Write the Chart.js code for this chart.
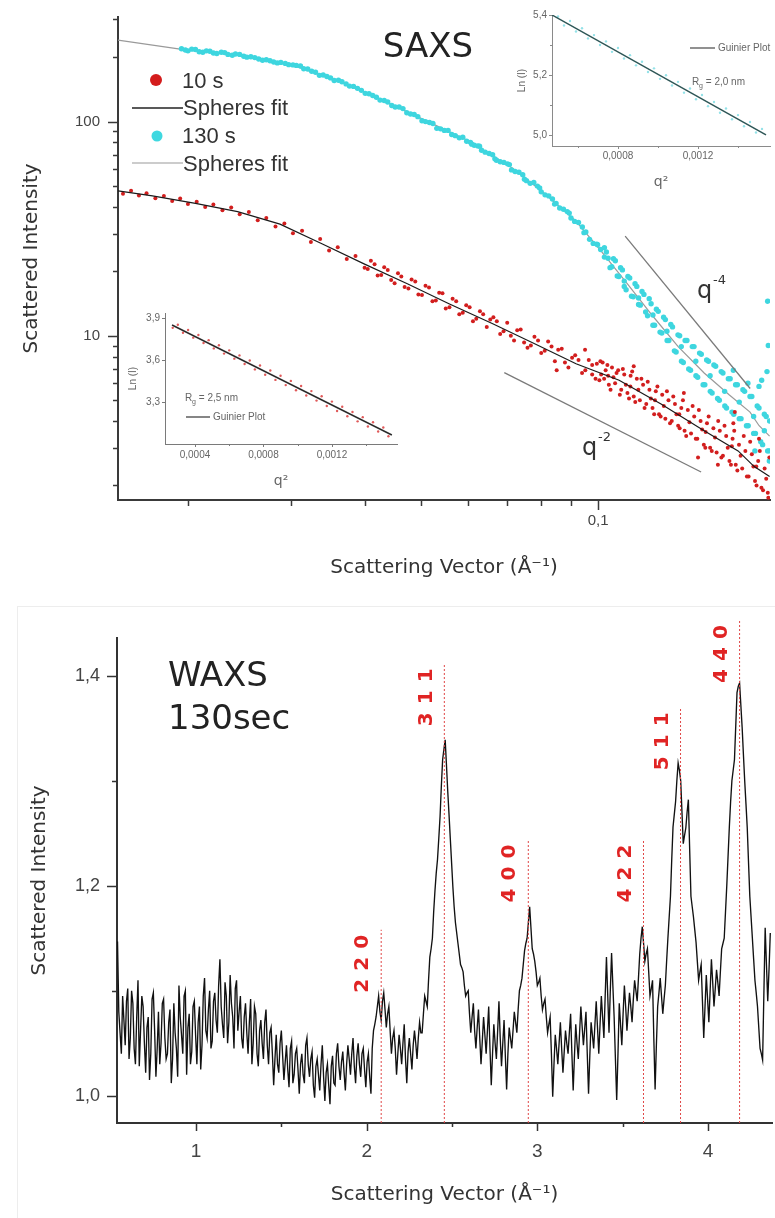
<!DOCTYPE html>
<html><head><meta charset="utf-8">
<script src="https://cdn.jsdelivr.net/npm/chart.js@4.4.1/dist/chart.umd.min.js"></script>
<style>
html,body{margin:0;padding:0;background:#fff;}
#wrap{position:relative;width:775px;height:1218px;overflow:hidden;background:#fff;}
canvas{position:absolute;}
#frame{position:absolute;left:17px;top:606px;width:820px;height:700px;border:1px solid #ededed;}
</style></head><body>
<div id="wrap">
<div id="frame"></div>
<canvas id="saxs" width="775" height="600" style="left:0;top:0"></canvas>
<canvas id="inTR" width="275" height="200" style="left:500px;top:0"></canvas>
<canvas id="inBL" width="290" height="210" style="left:110px;top:290px"></canvas>
<canvas id="waxs" width="775" height="618" style="left:0;top:600px"></canvas>
</div>
<script>
// ================= DATA =================
// SAXS: sphere-model fit curves (q in 1/Å, intensity)
const redFitQ = [0.0152,0.0174,0.0206,0.0243,0.0287,0.0339,0.0400,0.0473,0.0557,0.0660,0.0778,0.0917,0.1086,0.1280,0.1516,0.1732,0.1845,0.1960];
const redFitI = [47.5,45.0,41.5,38.0,33.2,26.8,21.6,17.5,14.1,11.4,9.2,7.4,6.2,4.8,3.6,2.9,2.45,2.2];
const cyanFitQ = [0.0152,0.0194,0.0243,0.0301,0.0374,0.0473,0.0605,0.0716,0.0803,0.0917,0.1016,0.1121,0.1241,0.1369,0.1516,0.1672,0.1815,0.1881,0.1960];
const cyanFitI = [240,218,205,184,149,111,80.7,60.4,47.2,34.3,24.5,17.5,12.3,8.9,6.7,5.3,4.4,3.8,3.4];

// SAXS measured points, 10 s
const redQ = [
 0.0155,0.0160,0.0165,0.0170,0.0176,0.0182,0.0188,0.0194,0.0200,0.0207,
 0.0214,0.0221,0.0229,0.0237,0.0245,0.0254,0.0263,0.0272,0.0282,0.0292,
 0.0302,0.0313,0.0324,0.0336,0.0348,0.0360,0.0373,0.0386,0.0400,
 0.0410,0.0421,0.0432,0.0444,0.0456,0.0468,0.0481,0.0494,0.0508,0.0522,
 0.0536,0.0550,0.0565,0.0580,0.0596,0.0612,0.0629,0.0646,0.0663,0.0681,
 0.0700,0.0719,0.0738,0.0758,0.0779,0.0800,0.0822,0.0844,0.0867,0.0890,
 0.0914,0.0939,0.0964,0.0990,0.0655,0.0710,0.0768,0.0833,0.0903,0.0977,
 0.1005,0.1018,0.1030,0.1043,0.1056,0.1069,0.1082,0.1095,0.1108,0.1122,
 0.1136,0.1150,0.1164,0.1178,0.1193,0.1208,0.1223,0.1238,0.1254,0.1270,
 0.1286,0.1302,0.1318,0.1335,0.1352,0.1369,0.1386,0.1404,0.1422,0.1440,
 0.1458,0.1476,0.1495,0.1514,0.1533,0.1552,0.1572,0.1592,0.1612,0.1632,
 0.1653,0.1674,0.1695,0.1716,0.1738,0.1760,0.1782,0.1805,0.1828,0.1851,
 0.1874,0.1898,0.1922,0.1946,0.1012,0.1062,0.1115,0.1171,0.1230,0.1294,
 0.1360,0.1431,0.1504,0.1582,0.1663,0.1749,0.1839,0.1934,0.0950,0.1150,
 0.1400,0.1700,0.1600,0.1950,0.1880,0.0850];
const redI = [
 46.0,47.5,45.2,46.3,43.9,44.9,42.6,43.8,41.2,42.3,
 39.9,41.0,38.6,39.7,36.9,37.8,34.6,35.5,32.4,33.4,
 30.1,30.9,27.4,28.3,25.0,25.9,22.8,23.6,20.8,
 22.4,19.1,20.9,18.2,19.6,16.9,18.3,15.6,17.1,14.5,
 15.9,13.4,14.9,12.6,13.9,11.7,13.0,11.0,12.2,10.2,
 11.5,9.5,10.7,8.8,9.9,8.3,9.4,7.6,8.7,7.1,
 8.1,6.7,7.7,6.3,11.9,10.0,9.0,8.9,7.9,7.3,
 6.2,7.5,6.9,5.9,7.1,6.0,6.9,5.6,6.6,5.4,
 6.5,5.2,6.3,5.0,5.9,4.8,5.6,4.6,5.5,4.3,
 5.3,4.1,5.0,4.0,4.8,3.8,4.6,3.6,4.5,3.5,
 4.2,3.3,4.0,3.1,3.9,3.0,3.7,2.85,3.6,2.75,
 3.4,2.6,3.3,2.5,3.1,2.4,2.9,2.2,2.8,2.1,
 2.6,1.95,2.4,1.85,6.6,6.4,5.9,5.6,5.1,4.7,
 4.3,3.95,3.65,3.35,3.0,2.75,2.45,2.15,8.6,7.2,
 5.4,3.9,2.5,1.75,3.3,6.9];
const redQ2 = [
 0.0405,0.0416,0.0427,0.0438,0.0450,0.0462,0.0475,0.0488,0.0501,0.0515,
 0.0529,0.0543,0.0558,0.0573,0.0588,0.0604,0.0620,0.0637,0.0672,0.0690,
 0.0728,0.0748,0.0790,0.0811,0.0855,0.0878,0.0926,0.0951,0.0977,0.0995,
 0.1009,0.1024,0.1037,0.1050,0.1075,0.1089,0.1102,0.1129,0.1143,0.1157,
 0.1185,0.1200,0.1215,0.1246,0.1262,0.1278,0.1310,0.1326,0.1343,0.1377,
 0.1395,0.1413,0.1449,0.1467,0.1485,0.1523,0.1543,0.1562,0.1602,0.1622,
 0.1642,0.1684,0.1706,0.1727,0.1771,0.1793,0.1816,0.1862,0.1886,0.1910,
 0.1958,0.1040,0.1135,0.1250,0.1375,0.1525,0.1690,0.1860,0.1710,0.1480];
const redI2 = [
 20.5,21.6,19.2,20.3,17.6,18.9,16.6,17.9,15.5,16.8,
 14.6,15.8,13.6,14.5,12.8,13.6,12.0,12.6,11.7,10.5,
 10.6,9.3,9.5,8.5,8.6,7.5,7.7,6.9,6.6,7.4,
 7.6,6.3,7.3,5.6,6.7,5.3,7.0,5.1,6.8,4.9,
 6.3,4.6,6.1,4.3,5.8,4.2,5.5,3.9,5.2,3.7,
 5.0,3.4,4.7,3.3,4.5,3.0,4.2,2.9,4.0,2.7,
 3.8,2.5,3.6,2.35,3.4,2.2,3.2,2.0,2.9,1.9,
 2.7,6.5,5.8,5.0,4.3,3.55,3.05,2.45,4.4,2.7];

// SAXS measured points, 130 s
const cyanQ = [
 0.0195,0.0200,0.0206,0.0212,0.0218,0.0224,0.0231,0.0238,0.0245,0.0252,
 0.0260,0.0268,0.0276,0.0284,0.0293,0.0302,0.0311,0.0320,0.0330,0.0340,
 0.0350,0.0361,0.0372,0.0383,0.0395,0.0407,0.0419,0.0432,0.0445,0.0458,
 0.0472,0.0486,0.0501,0.0516,0.0531,0.0547,0.0563,0.0580,0.0597,0.0615,
 0.0633,0.0652,0.0671,0.0691,0.0712,0.0733,0.0755,0.0777,0.0800,0.0824,
 0.0848,0.0873,0.0899,0.0926,0.0953,0.0981,0.1010,0.1040,
 0.0198,0.0203,0.0209,0.0215,0.0221,0.0228,0.0234,0.0241,0.0249,0.0256,
 0.0264,0.0272,0.0280,0.0288,0.0297,0.0306,0.0315,0.0325,0.0335,0.0345,
 0.0355,0.0366,0.0377,0.0389,0.0401,0.0413,0.0425,0.0438,0.0451,0.0465,
 0.0479,0.0493,0.0508,0.0523,0.0539,0.0555,0.0571,0.0588,0.0606,0.0624,
 0.0642,0.0661,0.0681,0.0701,0.0722,0.0744,0.0766,0.0788,0.0812,0.0836,
 0.0860,0.0886,0.0912,0.0940,0.0967,0.0995,0.1025,
 0.1025,0.1055,0.1070,0.1085,0.1100,0.1116,0.1132,0.1148,0.1164,0.1180,
 0.1197,0.1214,0.1231,0.1248,0.1266,0.1284,0.1302,0.1320,0.1339,0.1358,
 0.1377,0.1397,0.1417,0.1437,0.1457,0.1478,0.1499,0.1520,0.1542,0.1564,
 0.1586,0.1609,0.1632,0.1655,0.1679,0.1703,0.1727,0.1752,0.1777,0.1802,
 0.1828,0.1854,0.1880,0.1907,0.1934,0.1955,0.1108,0.1172,0.1240,0.1310,
 0.1386,0.1467,0.1552,0.1643,0.1740,0.1841,0.1920,0.1950,0.1945,0.1900,
 0.1958];
const cyanI = [
 219,214,217,211,213,208,210,204,206,200,
 199,193.5,192.5,188,187,184,182,176,170,165,
 160,156,150,146,140,135,130,125.5,119,117,
 110,108,101,99,93,91,87,84,81,77.5,
 73.5,71,66,64.5,59.5,58,53,52,47,45,
 41.5,39,35.5,33.8,30.5,27.0,25.3,23.0,
 216,218,212,214,209,211,206,207,202,201,
 196,194.5,190,189,184.5,183,176.5,172,164.5,162.5,
 155.5,153.5,146.5,143,135.5,132.5,126,123.5,117,115,
 108.5,105.5,100,98,92.5,91,86,84.5,80,77,
 72,70,65,63.5,58.5,56.5,51.5,50,45.5,43.5,
 39.5,38,34.2,32.2,28.2,26.8,23.3,
 25.8,21.0,22.4,18.9,20.3,16.4,18.6,15.2,17.0,13.9,
 15.6,12.4,14.1,11.2,13.0,10.3,11.9,9.5,11.0,8.4,
 10.0,7.5,9.5,6.9,8.9,6.4,8.2,5.9,7.6,5.4,
 7.2,5.0,6.7,4.6,6.3,4.3,5.9,4.1,5.5,3.8,
 5.2,3.5,4.6,3.1,4.2,2.9,18.0,15.0,12.5,10.5,
 8.9,7.6,6.5,5.5,4.9,4.2,3.6,9.0,14.5,6.2,
 2.6];
const cyanQ2 = [
 0.1033,0.1048,0.1062,0.1078,0.1092,0.1108,0.1124,0.1140,0.1156,0.1172,
 0.1188,0.1205,0.1222,0.1240,0.1257,0.1275,0.1293,0.1311,0.1330,0.1349,
 0.1368,0.1387,0.1407,0.1427,0.1447,0.1468,0.1489,0.1510,0.1531,0.1553,
 0.1575,0.1598,0.1621,0.1644,0.1667,0.1691,0.1715,0.1740,0.1765,0.1790,
 0.1815,0.1841,0.1867,0.1893,0.1920,0.1945,0.1960,
 0.0609,0.0628,0.0667,0.0706,0.0749,0.0795,0.0843,0.0893,0.0946,0.0998,
 0.1940,0.1880,0.1850,0.1700,0.1800];
const cyanI2 = [
 24.6,20.8,22.9,19.0,20.8,17.0,18.9,15.3,17.5,14.0,
 16.1,12.9,14.9,11.2,13.3,10.4,12.2,9.5,11.3,8.5,
 10.1,7.6,9.5,7.0,8.9,6.5,8.3,5.9,7.7,5.5,
 7.3,5.1,6.8,4.7,6.3,4.4,5.9,4.1,5.6,3.8,
 5.2,3.5,4.7,3.2,4.3,2.9,4.0,
 78.5,76.8,67.0,63.0,53.8,49.0,41.2,37.4,30.3,26.6,
 6.8,5.8,2.9,6.9,6.0];

// power-law guide segments
const slope2Q = [0.0692,0.1498], slope2I = [6.73,2.31];
const slope4Q = [0.1112,0.1816], slope4I = [29.2,5.67];

const saxsYTicks = [2,3,4,5,6,7,8,9,10,20,30,40,50,60,70,80,90,100,200,300];
const saxsYLabels = [10,100];
const saxsXTicks = [0.02,0.03,0.04,0.05,0.06,0.07,0.08,0.09,0.1];
const saxsXLabels = [0.1];

// Guinier inset (130 s), top right
const trQ2 = [0.00050,0.00053,0.00056,0.00059,0.00062,0.00065,0.00068,0.00071,0.00074,0.00077,
 0.00080,0.00083,0.00086,0.00089,0.00092,0.00095,0.00098,0.00101,0.00104,0.00107,
 0.00110,0.00113,0.00116,0.00119,0.00122,0.00125,0.00128,0.00131,0.00134,0.00137,
 0.00140,0.00143,0.00146,0.00149,0.00152];
const trLn = [5.395,5.365,5.380,5.345,5.356,5.322,5.333,5.300,5.312,5.277,
 5.290,5.255,5.266,5.232,5.244,5.210,5.222,5.187,5.199,5.165,
 5.177,5.141,5.155,5.119,5.133,5.096,5.110,5.074,5.088,5.052,
 5.066,5.029,5.043,5.008,5.020];
const trFitQ2 = [0.00047,0.00154], trFitLn = [5.40,5.00];
const trYTicks = [5.0,5.1,5.2,5.3,5.4], trYLabels = [5.0,5.2,5.4];
const trXTicks = [0.0006,0.0008,0.001,0.0012,0.0014], trXLabels = [0.0008,0.0012];

// Guinier inset (10 s), bottom left
const blQ2 = [0.00027,0.00030,0.00033,0.00036,0.00039,0.00042,0.00045,0.00048,0.00051,0.00054,
 0.00057,0.00060,0.00063,0.00066,0.00069,0.00072,0.00075,0.00078,0.00081,0.00084,
 0.00087,0.00090,0.00093,0.00096,0.00099,0.00102,0.00105,0.00108,0.00111,0.00114,
 0.00117,0.00120,0.00123,0.00126,0.00129,0.00132,0.00135,0.00138,0.00141,0.00144,
 0.00147,0.00150,0.00153];
const blLn = [3.830,3.852,3.795,3.815,3.760,3.779,3.722,3.742,3.683,3.706,
 3.646,3.669,3.610,3.633,3.572,3.597,3.533,3.561,3.495,3.525,
 3.458,3.488,3.421,3.451,3.384,3.414,3.347,3.378,3.310,3.341,
 3.272,3.303,3.236,3.266,3.198,3.229,3.162,3.192,3.125,3.155,
 3.089,3.118,3.055];
const blFitQ2 = [0.000266,0.00155], blFitLn = [3.85,3.064];
const blYTicks = [3.3,3.6,3.9], blYLabels = [3.3,3.6,3.9];
const blXTicks = [0.0004,0.0006,0.0008,0.001,0.0012,0.0014], blXLabels = [0.0004,0.0008,0.0012];

// WAXS 130 s : two interleaved sampling grids, 0.015 1/Å apart
const waxsStartA = 0.54, waxsStartB = 0.5475, waxsStep = 0.015;
const waxsIA = [
 1.147,1.060,1.095,1.048,1.102,1.055,1.088,1.030,1.110,1.062,
 1.085,1.022,1.075,1.040,1.098,1.018,1.080,1.050,1.092,1.035,
 1.070,1.012,1.088,1.045,1.105,1.058,1.095,1.020,1.078,1.042,
 1.090,1.030,1.085,1.048,1.112,1.055,1.100,1.052,1.098,1.060,
 1.130,1.068,1.108,1.050,1.115,1.075,1.102,1.062,1.095,1.045,
 1.088,1.040,1.092,1.050,1.078,1.028,1.072,1.035,1.082,1.030,
 1.065,1.010,1.058,1.022,1.062,1.015,1.048,1.008,1.052,1.020,
 1.045,1.002,1.040,1.012,1.055,1.018,1.042,0.998,1.035,1.005,
 1.048,0.995,1.030,0.992,1.038,1.010,1.050,1.015,1.042,1.005,
 1.048,1.020,1.055,1.012,1.050,1.018,1.045,1.008,1.040,1.002,
 1.062,1.075,1.095,1.072,1.098,1.065,1.085,1.040,1.062,1.020,
 1.058,1.030,1.068,1.012,1.055,1.025,1.062,1.035,1.070,1.060,
 1.095,1.085,1.132,1.150,1.195,1.225,1.266,1.320,1.339,1.290,
 1.245,1.199,1.165,1.145,1.125,1.118,1.095,1.100,1.060,1.088,
 1.045,1.082,1.030,1.075,1.040,1.085,1.010,1.068,1.035,1.090,
 1.028,1.072,1.006,1.065,1.045,1.080,1.060,1.100,1.112,1.138,
 1.150,1.180,1.140,1.128,1.105,1.112,1.082,1.092,1.060,1.075,
 0.999,1.058,1.030,1.070,1.022,1.062,1.040,1.078,1.005,1.068,
 1.035,1.085,1.048,1.080,1.002,1.070,1.045,1.090,1.040,1.095,
 1.055,1.132,1.060,1.136,1.075,0.996,1.088,1.048,1.105,1.062,
 1.098,1.070,1.110,1.090,1.135,1.161,1.128,1.140,1.095,1.110,
 1.006,1.085,1.112,1.078,1.105,1.150,1.190,1.256,1.280,1.317,
 1.300,1.240,1.255,1.282,1.190,1.170,1.146,1.110,1.125,1.055,
 1.115,1.070,1.130,1.085,1.120,1.095,1.140,1.150,1.200,1.256,
 1.300,1.320,1.384,1.393,1.351,1.300,1.255,1.190,1.150,1.110,
 1.085,1.045,1.034,1.160,1.090,1.155];
const waxsIB = [
 1.080,1.040,1.072,1.090,1.035,1.100,1.045,1.075,1.028,1.095,
 1.050,1.065,1.015,1.092,1.062,1.045,1.030,1.088,1.055,1.040,
 1.082,1.035,1.060,1.018,1.075,1.040,1.100,1.065,1.030,1.085,
 1.058,1.070,1.025,1.095,1.062,1.082,1.045,1.090,1.072,1.105,
 1.085,1.055,1.095,1.070,1.088,1.045,1.110,1.080,1.055,1.075,
 1.060,1.070,1.030,1.085,1.040,1.062,1.050,1.070,1.048,1.060,
 1.040,1.035,1.030,1.050,1.038,1.032,1.025,1.045,1.012,1.040,
 1.025,1.030,1.020,1.048,1.030,1.035,1.010,1.028,1.020,1.030,
 1.018,1.022,1.010,1.028,1.012,1.040,1.028,1.032,1.022,1.030,
 1.035,1.040,1.028,1.038,1.030,1.040,1.025,1.032,1.018,1.045,
 1.068,1.085,1.080,1.090,1.082,1.078,1.062,1.055,1.045,1.040,
 1.045,1.050,1.035,1.042,1.040,1.048,1.050,1.055,1.060,1.078,
 1.090,1.110,1.140,1.175,1.212,1.245,1.295,1.330,1.315,1.268,
 1.222,1.180,1.155,1.135,1.122,1.105,1.098,1.078,1.075,1.062,
 1.065,1.055,1.052,1.058,1.062,1.045,1.040,1.050,1.062,1.055,
 1.050,1.038,1.040,1.055,1.062,1.070,1.082,1.105,1.125,1.145,
 1.165,1.160,1.135,1.118,1.108,1.095,1.088,1.075,1.068,1.040,
 1.030,1.045,1.050,1.045,1.042,1.050,1.060,1.040,1.038,1.050,
 1.060,1.066,1.064,1.040,1.038,1.058,1.068,1.065,1.068,1.075,
 1.095,1.095,1.100,1.105,1.035,1.040,1.068,1.078,1.085,1.080,
 1.085,1.092,1.100,1.112,1.150,1.145,1.135,1.118,1.102,1.055,
 1.048,1.098,1.095,1.092,1.128,1.170,1.225,1.268,1.300,1.310,
 1.270,1.248,1.270,1.235,1.180,1.158,1.128,1.118,1.090,1.085,
 1.092,1.100,1.108,1.102,1.108,1.118,1.145,1.175,1.228,1.280,
 1.310,1.352,1.390,1.372,1.325,1.278,1.222,1.170,1.130,1.098,
 1.065,1.040,1.098,1.125,1.120];
const peakLabels = ['220','311','400','422','511','440'];
const peakQ = [2.085,2.455,2.947,3.622,3.839,4.185];
const peakTop = [1.158,1.412,1.244,1.244,1.370,1.453];
const waxsYTicks = [1.0,1.1,1.2,1.3,1.4], waxsYLabels = [1.0,1.2,1.4];
const waxsXTicks = [1,1.5,2,2.5,3,3.5,4], waxsXLabels = [1,2,3,4];

// ================= HELPERS =================
const SANS = '"Liberation Sans", Arial, sans-serif';
const DEJA = '"DejaVu Sans", Verdana, sans-serif';
const pts = (xs, ys) => xs.map((x, i) => ({x: x, y: ys[i]}));
const fmt = (v, d) => v.toFixed(d).replace('.', ',');

function axis(o) {
  return {
    type: o.type, min: o.min, max: o.max, position: o.position,
    afterBuildTicks(s) { s.ticks = o.ticks.map(v => ({value: v, major: o.labels.includes(v)})); },
    afterFit(s) { if (o.w != null) s.width = o.w; if (o.h != null) s.height = o.h; },
    ticks: {autoSkip: false, maxRotation: 0, minRotation: 0, padding: o.pad, color: o.color || '#444',
      font: {family: SANS, size: o.size},
      callback: (v) => o.labels.includes(v) ? fmt(v, o.dec) : ''},
    grid: {display: false, drawTicks: true, tickLength: o.tl},
    border: {display: true, color: o.bc, width: o.bw},
    title: o.title ? {display: true, text: o.title, color: o.tc || '#333',
      font: {family: o.tf || DEJA, size: o.ts}, padding: o.tp} : {display: false}
  };
}

function tickPlugin(id, specs) {
  return {id: id, afterDraw(chart) {
    const ctx = chart.ctx; ctx.save();
    specs.forEach(sp => {
      const sc = chart.scales[sp.axis];
      ctx.strokeStyle = sp.color; ctx.lineWidth = sp.width;
      sc.ticks.forEach(t => {
        const p = Math.round(sc.getPixelForValue(t.value)) + (sp.width % 2 ? 0.5 : 0);
        const len = t.major ? sp.major : sp.minor;
        ctx.beginPath();
        if (sc.isHorizontal()) { ctx.moveTo(p, sc.top); ctx.lineTo(p, sc.top + len); }
        else { ctx.moveTo(sc.right, p); ctx.lineTo(sc.right - len, p); }
        ctx.stroke();
      });
    });
    ctx.restore();
  }};
}

const common = {animation: false, responsive: false, devicePixelRatio: 1, events: [],
  plugins: {legend: {display: false}, tooltip: {enabled: false}}};

function lineDs(data, color, width, extra) {
  return Object.assign({data: data, showLine: true, borderColor: color, borderWidth: width,
    pointRadius: 0, pointHoverRadius: 0, fill: false, tension: 0}, extra || {});
}
function dotDs(data, color, r) {
  return {data: data, showLine: false, pointRadius: r, pointHoverRadius: 0,
    pointBackgroundColor: color, pointBorderWidth: 0};
}

// ================= SAXS MAIN =================
const saxsDecor = {id: 'saxsDecor', afterDraw(chart) {
  const ctx = chart.ctx; ctx.save();
  ctx.fillStyle = '#222'; ctx.textBaseline = 'alphabetic'; ctx.textAlign = 'center';
  ctx.font = '34px ' + DEJA; ctx.fillText('SAXS', 428, 57);
  // legend
  ctx.textAlign = 'left'; ctx.textBaseline = 'middle';
  ctx.font = '22px ' + SANS;
  ctx.beginPath(); ctx.fillStyle = '#d41c1c'; ctx.arc(156, 80, 6, 0, Math.PI * 2); ctx.fill();
  ctx.fillStyle = '#333'; ctx.fillText('10 s', 182, 82);
  ctx.strokeStyle = '#222'; ctx.lineWidth = 1.5;
  ctx.beginPath(); ctx.moveTo(132, 108); ctx.lineTo(183, 108); ctx.stroke();
  ctx.fillText('Spheres fit', 183, 109);
  ctx.beginPath(); ctx.fillStyle = '#3fd8e0'; ctx.arc(157, 136, 5.5, 0, Math.PI * 2); ctx.fill();
  ctx.fillStyle = '#333'; ctx.fillText('130 s', 182, 137);
  ctx.strokeStyle = '#999'; ctx.lineWidth = 1.2;
  ctx.beginPath(); ctx.moveTo(132, 163); ctx.lineTo(183, 163); ctx.stroke();
  ctx.fillText('Spheres fit', 183, 165);
  // power-law labels
  ctx.textBaseline = 'alphabetic'; ctx.fillStyle = '#333';
  ctx.font = '24px ' + DEJA; ctx.fillText('q', 697, 298); ctx.fillText('q', 582, 455);
  ctx.font = '13px ' + DEJA; ctx.fillText('-4', 713, 284); ctx.fillText('-2', 598, 441);
  ctx.restore();
}};

new Chart(document.getElementById('saxs'), {
  type: 'scatter',
  data: {datasets: [
    lineDs(pts(redFitQ, redFitI), '#1a1a1a', 1.2),
    lineDs(pts(slope2Q, slope2I), '#7a7a7a', 1.3),
    lineDs(pts(slope4Q, slope4I), '#7a7a7a', 1.3),
    dotDs(pts(redQ, redI).concat(pts(redQ2, redI2)), '#d21e1e', 2.0),
    dotDs(pts(cyanQ, cyanI).concat(pts(cyanQ2, cyanI2)), '#3ed6df', 2.7),
    lineDs(pts(cyanFitQ, cyanFitI), '#9a9a9a', 1.2)
  ]},
  options: Object.assign({}, common, {
    layout: {padding: {top: 15, right: 5, left: 0, bottom: 0}},
    scales: {
      x: axis({type: 'logarithmic', min: 0.0152, max: 0.1963, position: 'bottom', ticks: saxsXTicks, labels: saxsXLabels,
        dec: 1, size: 15, pad: 4, tl: 8, h: 100, bc: '#3a3a3a', bw: 2,
        title: 'Scattering Vector (Å⁻¹)', ts: 20, tp: {top: 0, bottom: 20}}),
      y: axis({type: 'logarithmic', min: 1.71, max: 308, position: 'left', ticks: saxsYTicks, labels: saxsYLabels,
        dec: 0, size: 15, pad: 8, tl: 10, w: 118, bc: '#3a3a3a', bw: 2,
        title: 'Scattered Intensity', ts: 20, tp: {top: 20, bottom: 0}})
    }
  }),
  plugins: [tickPlugin('saxsTicks', [
    {axis: 'x', major: 10, minor: 6, color: '#3a3a3a', width: 1.5},
    {axis: 'y', major: 10, minor: 5, color: '#3a3a3a', width: 1.5}]), saxsDecor]
});

// ================= INSET TOP RIGHT =================
const trDecor = {id: 'trDecor', afterDraw(chart) {
  const ctx = chart.ctx; ctx.save();
  ctx.strokeStyle = '#555'; ctx.lineWidth = 1.3;
  ctx.beginPath(); ctx.moveTo(190, 48); ctx.lineTo(215, 48); ctx.stroke();
  ctx.fillStyle = '#666'; ctx.textBaseline = 'middle'; ctx.textAlign = 'left';
  ctx.font = '10px ' + SANS; ctx.fillText('Guinier Plot', 218, 48);
  ctx.fillText('R', 192, 82); ctx.font = '7px ' + SANS; ctx.fillText('g', 199, 86);
  ctx.font = '10px ' + SANS; ctx.fillText(' = 2,0 nm', 203, 82);
  ctx.restore();
}};
new Chart(document.getElementById('inTR'), {
  type: 'scatter',
  data: {datasets: [
    lineDs(pts(trFitQ2, trFitLn), '#2e5656', 1.5),
    dotDs(pts(trQ2, trLn), '#94e2e8', 1.2)
  ]},
  options: Object.assign({}, common, {
    layout: {padding: {top: 15, right: 5, left: 0, bottom: 0}},
    scales: {
      x: axis({type: 'linear', min: 0.00047, max: 0.00156, position: 'bottom', ticks: trXTicks, labels: trXLabels,
        dec: 4, size: 10, pad: 1, tl: 3, h: 54, bc: '#8a8a8a', bw: 1, color: '#666',
        title: 'q²', ts: 14, tc: '#666', tp: {top: 0, bottom: 9}}),
      y: axis({type: 'linear', min: 4.963, max: 5.40, position: 'left', ticks: trYTicks, labels: trYLabels,
        dec: 1, size: 10, pad: 2, tl: 3, w: 52, bc: '#8a8a8a', bw: 1, color: '#666',
        title: 'Ln (I)', ts: 10, tc: '#666', tf: SANS, tp: {top: 16, bottom: 0}})
    }
  }),
  plugins: [tickPlugin('trTicks', [
    {axis: 'x', major: 3, minor: 2, color: '#8a8a8a', width: 1},
    {axis: 'y', major: 3, minor: 2, color: '#8a8a8a', width: 1}]), trDecor]
});

// ================= INSET BOTTOM LEFT =================
const blDecor = {id: 'blDecor', afterDraw(chart) {
  const ctx = chart.ctx; ctx.save();
  ctx.fillStyle = '#666'; ctx.textBaseline = 'middle'; ctx.textAlign = 'left';
  ctx.font = '10px ' + SANS; ctx.fillText('R', 75, 108);
  ctx.font = '7px ' + SANS; ctx.fillText('g', 82, 112);
  ctx.font = '10px ' + SANS; ctx.fillText(' = 2,5 nm', 86, 108);
  ctx.strokeStyle = '#444'; ctx.lineWidth = 1.3;
  ctx.beginPath(); ctx.moveTo(76, 127); ctx.lineTo(100, 127); ctx.stroke();
  ctx.fillText('Guinier Plot', 103, 127);
  ctx.restore();
}};
new Chart(document.getElementById('inBL'), {
  type: 'scatter',
  data: {datasets: [
    lineDs(pts(blFitQ2, blFitLn), '#2a2a2a', 1.5),
    dotDs(pts(blQ2, blLn), '#e05a5a', 1.2)
  ]},
  options: Object.assign({}, common, {
    layout: {padding: {top: 23, right: 3, left: 0, bottom: 0}},
    scales: {
      x: axis({type: 'linear', min: 0.000225, max: 0.00158, position: 'bottom', ticks: blXTicks, labels: blXLabels,
        dec: 4, size: 10, pad: 2, tl: 3, h: 56, bc: '#7a7a7a', bw: 1, color: '#666',
        title: 'q²', ts: 14, tc: '#666', tp: {top: 0, bottom: 10}}),
      y: axis({type: 'linear', min: 3.0, max: 3.936, position: 'left', ticks: blYTicks, labels: blYLabels,
        dec: 1, size: 10, pad: 2, tl: 3, w: 55, bc: '#7a7a7a', bw: 1, color: '#666',
        title: 'Ln (I)', ts: 10, tc: '#666', tf: SANS, tp: {top: 17, bottom: 0}})
    }
  }),
  plugins: [tickPlugin('blTicks', [
    {axis: 'x', major: 3, minor: 2, color: '#7a7a7a', width: 1},
    {axis: 'y', major: 3, minor: 2, color: '#7a7a7a', width: 1}]), blDecor]
});

// ================= WAXS =================
const waxsPts = waxsIA.map((v, i) => ({x: waxsStartA + i * waxsStep, y: v}))
  .concat(waxsIB.map((v, i) => ({x: waxsStartB + i * waxsStep, y: v})))
  .sort((a, b) => a.x - b.x);
const waxsDecor = {id: 'waxsDecor', afterDraw(chart) {
  const ctx = chart.ctx, xs = chart.scales.x, ys = chart.scales.y;
  ctx.save();
  ctx.fillStyle = '#222'; ctx.textAlign = 'left'; ctx.textBaseline = 'alphabetic';
  ctx.font = '34px ' + DEJA;
  ctx.fillText('WAXS', 168, 86); ctx.fillText('130sec', 168, 129);
  ctx.fillStyle = '#e02424'; ctx.font = 'bold 20px ' + DEJA;
  ctx.textAlign = 'center'; ctx.textBaseline = 'middle';
  peakLabels.forEach((lab, i) => {
    const px = xs.getPixelForValue(peakQ[i]) - 18;
    const top = ys.getPixelForValue(peakTop[i]) + 4;
    const step = 22, len = step * (lab.length - 1);
    for (let k = 0; k < lab.length; k++) {
      const cy = top + 8 + len - k * step;
      ctx.save(); ctx.translate(px, cy); ctx.rotate(-Math.PI / 2); ctx.fillText(lab[k], 0, 0); ctx.restore();
    }
  });
  ctx.restore();
}};
const peakDs = peakQ.map((q, i) => lineDs([{x: q, y: 0.974}, {x: q, y: peakTop[i]}], '#e04848', 1,
  {borderDash: [2, 2], clip: false}));
new Chart(document.getElementById('waxs'), {
  type: 'scatter',
  data: {datasets: peakDs.concat([lineDs(waxsPts, '#111', 1.35)])},
  options: Object.assign({}, common, {
    layout: {padding: {top: 38, right: 3, left: 0, bottom: 0}},
    scales: {
      x: axis({type: 'linear', min: 0.537, max: 4.375, position: 'bottom', ticks: waxsXTicks, labels: waxsXLabels,
        dec: 0, size: 19, pad: 9, tl: 8, h: 95, bc: '#333', bw: 2,
        title: 'Scattering Vector (Å⁻¹)', ts: 20, tp: {top: 0, bottom: 11}}),
      y: axis({type: 'linear', min: 0.974, max: 1.436, position: 'left', ticks: waxsYTicks, labels: waxsYLabels,
        dec: 1, size: 18, pad: 7, tl: 10, w: 117, bc: '#333', bw: 2,
        title: 'Scattered Intensity', ts: 20, tp: {top: 28, bottom: 0}})
    }
  }),
  plugins: [tickPlugin('waxsTicks', [
    {axis: 'x', major: 8, minor: 4, color: '#333', width: 1.5},
    {axis: 'y', major: 10, minor: 5, color: '#333', width: 1.5}]), waxsDecor]
});
</script>
</body></html>
